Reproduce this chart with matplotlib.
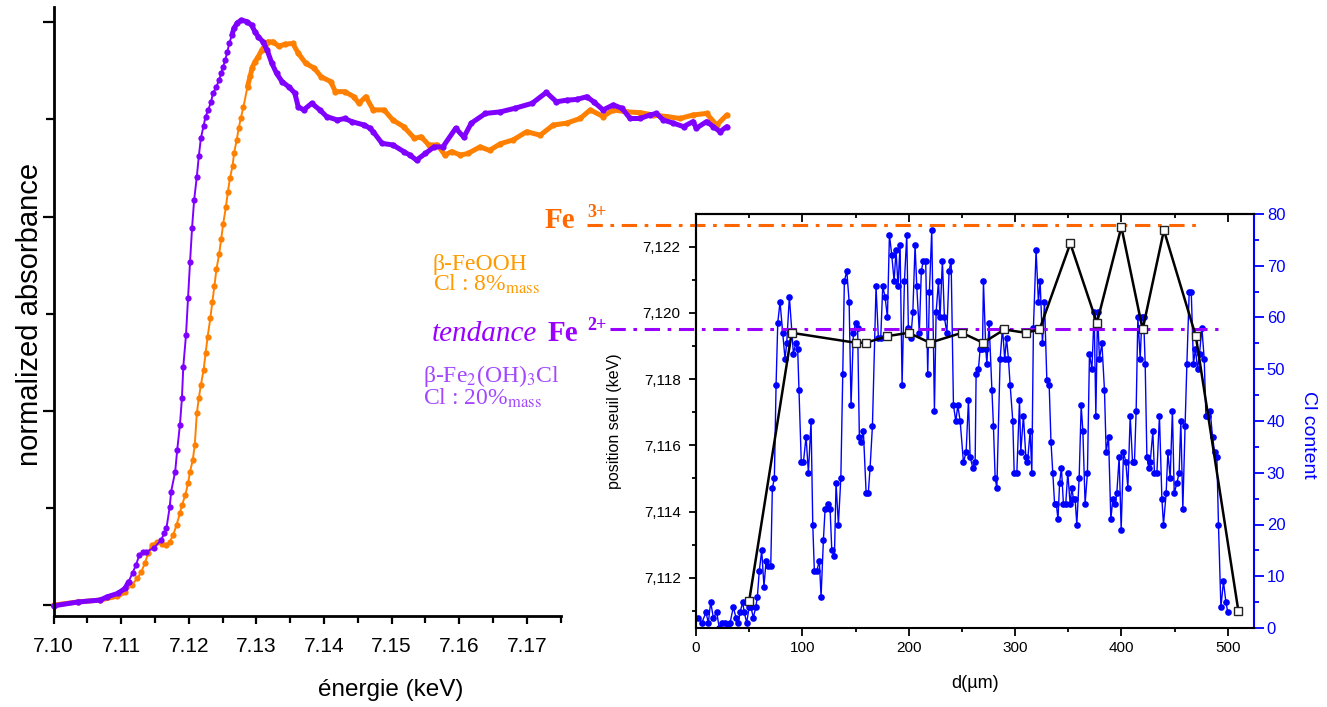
import matplotlib.pyplot as plt
import numpy as np
from matplotlib.ticker import MultipleLocator, FuncFormatter
from matplotlib.transforms import Bbox

plt.rcParams['font.family'] = ['Liberation Sans', 'DejaVu Sans']
plt.rcParams['mathtext.fontset'] = 'stix'

# XANES spectra (energy in keV, normalized absorbance)
purpleE = [7.1000, 7.1036, 7.1069, 7.1079, 7.1095, 7.1106, 7.1111, 7.1117, 7.1122, 7.1127,
           7.1132, 7.1137, 7.1148, 7.1159, 7.1164, 7.1167, 7.1172, 7.1174, 7.1180, 7.1183,
           7.1187, 7.1190, 7.1192, 7.1196, 7.1199, 7.1202, 7.1205, 7.1208, 7.1212, 7.1215,
           7.1218, 7.1222, 7.1225, 7.1229, 7.1233, 7.1236, 7.1241, 7.1245, 7.1248, 7.1251,
           7.1254, 7.1257, 7.1260, 7.1264, 7.1267, 7.1272, 7.1278, 7.1286, 7.1293, 7.1298,
           7.1303, 7.1310, 7.1316, 7.1323, 7.1330, 7.1338, 7.1349, 7.1357, 7.1362, 7.1370,
           7.1382, 7.1394, 7.1404, 7.1420, 7.1431, 7.1441, 7.1460, 7.1468, 7.1473, 7.1486,
           7.1502, 7.1518, 7.1527, 7.1537, 7.1550, 7.1563, 7.1576, 7.1595, 7.1607, 7.1618,
           7.1639, 7.1661, 7.1682, 7.1708, 7.1729, 7.1744, 7.1759, 7.1774, 7.1789, 7.1799,
           7.1813, 7.1828, 7.1841, 7.1853, 7.1868, 7.1882, 7.1892, 7.1902, 7.1917, 7.1932,
           7.1946, 7.1951, 7.1966, 7.1976, 7.1986, 7.1996]
purpleA = [-0.001, 0.009, 0.014, 0.022, 0.031, 0.044, 0.061, 0.084, 0.104, 0.130,
           0.138, 0.138, 0.147, 0.168, 0.186, 0.198, 0.254, 0.293, 0.344, 0.400,
           0.464, 0.533, 0.614, 0.695, 0.790, 0.884, 0.971, 1.042, 1.102, 1.156,
           1.201, 1.233, 1.257, 1.274, 1.295, 1.317, 1.334, 1.351, 1.368, 1.385,
           1.402, 1.422, 1.445, 1.467, 1.484, 1.498, 1.505, 1.501, 1.492, 1.475,
           1.462, 1.449, 1.428, 1.394, 1.368, 1.347, 1.332, 1.317, 1.282, 1.274,
           1.291, 1.274, 1.257, 1.248, 1.252, 1.244, 1.235, 1.227, 1.218, 1.188,
           1.184, 1.167, 1.158, 1.145, 1.162, 1.179, 1.179, 1.227, 1.204, 1.240,
           1.265, 1.269, 1.278, 1.291, 1.319, 1.295, 1.299, 1.301, 1.308, 1.295,
           1.274, 1.287, 1.278, 1.252, 1.252, 1.261, 1.265, 1.248, 1.240, 1.231,
           1.244, 1.227, 1.244, 1.231, 1.218, 1.231]

orangeE = [7.1000, 7.1036, 7.1069, 7.1094, 7.1106, 7.1116, 7.1124, 7.1130, 7.1135, 7.1140,
           7.1145, 7.1153, 7.1161, 7.1167, 7.1172, 7.1177, 7.1182, 7.1187, 7.1190, 7.1195,
           7.1199, 7.1202, 7.1206, 7.1209, 7.1212, 7.1215, 7.1218, 7.1222, 7.1225, 7.1228,
           7.1232, 7.1235, 7.1238, 7.1241, 7.1245, 7.1248, 7.1251, 7.1255, 7.1258, 7.1261,
           7.1265, 7.1267, 7.1271, 7.1274, 7.1277, 7.1281, 7.1287, 7.1291, 7.1294, 7.1298,
           7.1303, 7.1308, 7.1313, 7.1317, 7.1325, 7.1333, 7.1343, 7.1354, 7.1362, 7.1373,
           7.1386, 7.1396, 7.1410, 7.1417, 7.1431, 7.1444, 7.1452, 7.1462, 7.1473, 7.1489,
           7.1502, 7.1518, 7.1534, 7.1544, 7.1555, 7.1568, 7.1579, 7.1589, 7.1602, 7.1613,
           7.1631, 7.1645, 7.1661, 7.1680, 7.1700, 7.1720, 7.1739, 7.1759, 7.1779, 7.1794,
           7.1813, 7.1828, 7.1848, 7.1868, 7.1887, 7.1907, 7.1927, 7.1946, 7.1966, 7.1981,
           7.1996]
orangeA = [0.001, 0.009, 0.014, 0.024, 0.035, 0.053, 0.070, 0.087, 0.108, 0.134,
           0.156, 0.164, 0.158, 0.156, 0.164, 0.181, 0.207, 0.237, 0.258, 0.284,
           0.314, 0.344, 0.374, 0.413, 0.494, 0.533, 0.567, 0.605, 0.648, 0.691,
           0.738, 0.781, 0.821, 0.864, 0.903, 0.941, 0.981, 1.024, 1.064, 1.098,
           1.131, 1.162, 1.197, 1.227, 1.252, 1.282, 1.334, 1.361, 1.383, 1.398,
           1.411, 1.428, 1.441, 1.449, 1.449, 1.438, 1.443, 1.445, 1.420, 1.394,
           1.381, 1.359, 1.347, 1.321, 1.321, 1.308, 1.291, 1.308, 1.274, 1.274,
           1.248, 1.231, 1.201, 1.205, 1.184, 1.184, 1.158, 1.167, 1.158, 1.162,
           1.179, 1.170, 1.187, 1.197, 1.218, 1.209, 1.235, 1.240, 1.252, 1.274,
           1.257, 1.274, 1.269, 1.267, 1.261, 1.257, 1.252, 1.261, 1.265, 1.235,
           1.261]

# Cl content profile (d in um)
clD = [2.2, 5.4, 9.4, 11.6, 13.8, 16.3, 19.5, 21.9, 24.2, 27.3,
       29.8, 32.0, 35.1, 37.6, 39.8, 41.4, 43.9, 45.4, 47.7, 49.9,
       51.7, 53.9, 56.2, 57.7, 59.5, 61.8, 63.9, 65.9, 68.0, 70.3,
       71.8, 73.7, 75.3, 76.9, 79.0, 81.6, 83.7, 85.3, 87.8, 91.6,
       93.8, 95.6, 96.8, 99.0, 101.0, 103.5, 105.7, 108.2, 109.8, 111.3,
       113.5, 116.0, 117.6, 119.8, 121.4, 123.9, 126.1, 127.7, 130.2, 131.7,
       133.9, 136.2, 138.0, 139.5, 141.8, 144.0, 145.8, 148.0, 150.2, 152.0,
       153.6, 155.2, 157.4, 160.0, 162.0, 163.7, 165.9, 169.3, 171.5, 173.7,
       175.6, 177.8, 180.0, 181.9, 184.1, 186.3, 188.1, 190.0, 191.9, 193.8,
       196.0, 198.2, 199.7, 202.0, 203.9, 206.0, 207.6, 210.0, 211.9, 213.8,
       216.0, 217.9, 219.5, 221.7, 224.2, 225.8, 228.0, 229.5, 231.7, 233.6,
       235.9, 238.0, 239.9, 242.1, 244.3, 246.2, 248.4, 251.5, 254.0, 256.2,
       257.8, 260.3, 262.5, 263.4, 265.6, 267.2, 269.4, 270.3, 272.5, 273.5,
       275.6, 278.2, 279.7, 281.3, 282.9, 286.0, 288.2, 290.3, 292.0, 293.8,
       295.4, 297.9, 299.2, 301.7, 304.2, 305.4, 307.9, 310.2, 311.7, 314.2,
       315.8, 317.3, 319.8, 322.0, 323.6, 325.8, 327.7, 329.9, 332.1, 333.8,
       335.5, 337.2, 338.8, 340.4, 341.9, 343.6, 345.5, 347.7, 349.6, 351.8,
       353.4, 354.9, 356.5, 358.1, 360.3, 362.2, 363.8, 365.9, 368.1, 370.0,
       372.3, 374.4, 376.0, 377.6, 379.4, 381.7, 384.1, 385.7, 387.9, 390.1,
       392.0, 394.2, 395.7, 397.9, 399.8, 402.0, 404.2, 406.1, 408.3, 410.5,
       412.3, 413.9, 415.5, 417.7, 419.3, 420.9, 422.4, 424.0, 425.8, 427.1,
       429.6, 431.1, 433.4, 435.8, 438.1, 439.6, 442.1, 443.7, 445.9, 448.0,
       449.7, 452.2, 454.3, 455.9, 457.8, 459.9, 461.6, 463.8, 465.7, 467.8,
       469.7, 471.6, 473.5, 475.7, 477.9, 479.5, 481.4, 483.5, 485.7, 487.6,
       489.8, 491.3, 493.6, 496.0, 498.3, 500.1]
clV = [2, 1, 3, 1, 5, 2, 3, 0, 1, 1,
       0, 1, 4, 2, 1, 3, 5, 3, 1, 4,
       4, 2, 4, 6, 11, 15, 8, 13, 12, 12,
       27, 29, 47, 59, 63, 57, 52, 55, 64, 53,
       55, 54, 46, 32, 32, 37, 30, 40, 20, 11,
       11, 13, 6, 17, 23, 24, 23, 15, 14, 28,
       20, 29, 49, 67, 69, 63, 43, 57, 59, 58,
       37, 36, 38, 26, 26, 31, 39, 66, 56, 56,
       66, 64, 60, 76, 72, 67, 73, 66, 74, 47,
       67, 76, 58, 56, 61, 74, 66, 57, 69, 71,
       71, 49, 65, 77, 42, 61, 67, 60, 71, 60,
       57, 69, 71, 43, 40, 43, 40, 32, 34, 44,
       33, 31, 32, 49, 50, 54, 54, 67, 54, 51,
       59, 46, 39, 29, 27, 52, 58, 52, 56, 52,
       47, 40, 30, 30, 44, 34, 41, 33, 32, 38,
       30, 58, 73, 63, 67, 55, 63, 48, 47, 36,
       30, 24, 24, 21, 28, 31, 24, 24, 30, 24,
       27, 25, 25, 20, 29, 43, 38, 24, 30, 53,
       50, 61, 41, 61, 52, 55, 46, 34, 37, 21,
       25, 24, 26, 33, 19, 34, 32, 27, 41, 32,
       32, 42, 60, 52, 60, 60, 51, 33, 31, 32,
       38, 30, 30, 41, 25, 20, 26, 34, 29, 42,
       26, 28, 30, 40, 23, 39, 51, 65, 65, 51,
       54, 50, 53, 58, 52, 41, 41, 42, 37, 34,
       33, 20, 4, 9, 5, 3]

# edge position (keV) along the profile
seuilD = [50, 90, 150, 160, 180, 200, 220, 250, 270, 290, 310, 323, 352, 377, 400, 420, 440, 470, 510]
seuilE = [7.1113, 7.1194, 7.1191, 7.1191, 7.1193, 7.1194, 7.1191, 7.1194, 7.1191, 7.1195,
          7.1194, 7.1195, 7.1221, 7.1197, 7.1226, 7.1195, 7.1225, 7.1193, 7.1110]
fe3Level = 7.12266
fe2Level = 7.11953

purple = '#8000FF'
orange = '#FF8000'
blue = '#0000FF'

W, H = 1327, 707
fig = plt.figure(figsize=(W / 100, H / 100), dpi=100)


def box(x0, y0, x1, y1):
    return [x0 / W, 1 - y1 / H, (x1 - x0) / W, (y1 - y0) / H]


def ftext(x, y, s, **kw):
    return fig.text(x / W, 1 - y / H, s, **kw)


# ---------------- left: spectra ----------------
ax = fig.add_axes(box(53.5, 7, 729.5, 616))
ax.patch.set_visible(False)

for E, A, col, cut in [(orangeE, orangeA, orange, 7.1286), (purpleE, purpleA, purple, 7.1262)]:
    ax.plot(E, A, '-', color=col, lw=1.4, clip_on=False)
    ax.plot(E, A, 'o', color=col, ms=4.5, mew=0, clip_on=False)
    lo = [i for i, e in enumerate(E) if e <= 7.1112]
    hi = [i for i, e in enumerate(E) if e >= cut]
    for idx in (lo, hi):
        ax.plot([E[i] for i in idx], [A[i] for i in idx], '-', color=col, lw=3.6,
                solid_capstyle='round', solid_joinstyle='round', clip_on=False)

ax.set_xlim(7.10, 7.20)
ax.set_ylim(-0.027, 1.5386)
for s in ['top', 'right']:
    ax.spines[s].set_visible(False)
for s in ['left', 'bottom']:
    ax.spines[s].set_linewidth(2)
ax.spines['bottom'].set_bounds(7.10, 7.175)
ax.set_xticks(np.round(np.arange(7.10, 7.1701, 0.01), 2))
ax.set_xticks(np.round(np.arange(7.105, 7.1751, 0.01), 3), minor=True)
ax.xaxis.set_major_formatter(FuncFormatter(lambda v, p: f"{v:.2f}"))
ax.set_yticks([0, 0.5, 1.0, 1.5])
ax.set_yticks([0.25, 0.75, 1.25], minor=True)
ax.tick_params(axis='x', which='major', length=6, width=1.6, direction='out', labelsize=15, pad=9)
ax.tick_params(axis='x', which='minor', length=5, width=1.6, direction='out')
ax.tick_params(axis='y', which='major', length=8, width=1.6, direction='out', labelleft=False)
ax.tick_params(axis='y', which='minor', length=5.5, width=1.6, direction='out')

ftext(30, 314, 'normalized absorbance', rotation=90, ha='center', va='center', size=21)
ftext(391, 690, 'énergie (keV)', ha='center', va='center', size=17.5)

# legend-like annotations
serif = ['Liberation Serif', 'DejaVu Serif']
ftext(433, 270, 'β-FeOOH', family=serif, size=17, color='#FF9A00', va='baseline')
ftext(433, 291, r'Cl : 8%$_{\mathrm{mass}}$', family=serif, size=17, color='#FF9A00', va='baseline')
t = ftext(423, 381.7, r'β-Fe$_2$(OH)$_3$Cl', family=serif, size=17, color='#A347FF', va='baseline')
t.set_clip_box(Bbox([[0, 0], [558, H]]))
t.set_clip_on(True)
ftext(423, 405, r'Cl : 20%$_{\mathrm{mass}}$', family=serif, size=17, color='#A347FF', va='baseline')

ftext(545, 228.3, 'Fe', family=serif, weight='bold', size=21, color='#FF6A00', va='baseline')
ftext(587, 216.7, '3+', family=serif, weight='bold', size=13, color='#FF6A00', va='baseline')
ftext(432, 340.7, 'tendance', family=serif, style='italic', size=21, color='#9900FF', va='baseline')
ftext(548, 340.7, 'Fe', family=serif, weight='bold', size=21, color='#9900FF', va='baseline')
ftext(587, 330, '2+', family=serif, weight='bold', size=13, color='#9900FF', va='baseline')

# ---------------- right: profile inset ----------------
axc = fig.add_axes(box(696, 214, 1254.3, 628))
axc.set_xlim(0, 525)
axc.set_ylim(0, 80)
axc.plot(clD, clV, '-o', color=blue, lw=1, ms=4.8, mew=0)

axp = axc.twinx()
# twinx moves the host's ticks to the left: swap them back
axc.yaxis.tick_right()
axc.yaxis.set_label_position('right')
axp.yaxis.tick_left()
axp.yaxis.set_label_position('left')

axc.yaxis.set_major_locator(MultipleLocator(10))
axc.yaxis.set_minor_locator(MultipleLocator(5))
axc.xaxis.set_major_locator(MultipleLocator(100))
axc.xaxis.set_minor_locator(MultipleLocator(50))
axc.tick_params(axis='y', which='major', colors=blue, length=7, width=1.3, labelsize=12, pad=2)
axc.tick_params(axis='y', which='minor', colors=blue, length=3.5, width=1.3)
axc.tick_params(axis='x', which='major', length=6, width=1.3, labelsize=11, pad=3)
axc.tick_params(axis='x', which='minor', length=3, width=1.3)
for s in axc.spines.values():
    s.set_linewidth(1.5)
axc.spines['right'].set_color(blue)

top = axc.secondary_xaxis('top')
top.xaxis.set_major_locator(MultipleLocator(100))
top.xaxis.set_minor_locator(MultipleLocator(50))
top.tick_params(which='major', direction='in', length=6, width=1.3, labeltop=False)
top.tick_params(which='minor', direction='in', length=3, width=1.3)
top.spines['top'].set_linewidth(1.5)

axp.set_ylim(7.11048, 7.12299)
axp.yaxis.set_major_locator(MultipleLocator(0.002))
axp.yaxis.set_minor_locator(MultipleLocator(0.001))
axp.yaxis.set_major_formatter(FuncFormatter(lambda v, p: f"{v:.3f}".replace('.', ',')))
axp.tick_params(axis='y', which='major', length=5, width=1.3, labelsize=11, pad=6)
axp.tick_params(axis='y', which='minor', length=3, width=1.3)
for s in ['right', 'top', 'bottom']:
    axp.spines[s].set_visible(False)
axp.spines['left'].set_linewidth(1.5)

axp.plot([-102.5, 474], [fe3Level, fe3Level], color='#FF6600', lw=2.2,
         ls=(0, (5, 2.5, 1.2, 2.5)), clip_on=False)
axp.plot([-81, 491], [fe2Level, fe2Level], color='#9900FF', lw=2.2,
         ls=(0, (5, 2.5, 1.2, 2.5)), clip_on=False)
axp.plot(seuilD, seuilE, '-s', color='black', lw=1.8, ms=6, mfc='white', mec='#222222', mew=1,
         clip_on=False)

ftext(614, 421, 'position seuil (keV)', rotation=90, ha='center', va='center', size=11.5)
ftext(1308, 435, 'Cl content', rotation=-90, ha='center', va='center', size=14, color=blue)
ftext(975, 683, 'd(µm)', ha='center', va='center', size=13)

fig.savefig('out.png', dpi=100)
